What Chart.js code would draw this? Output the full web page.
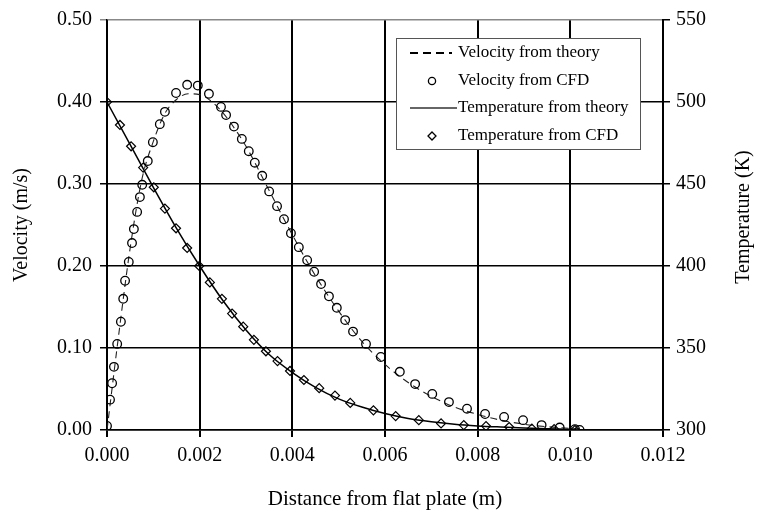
<!DOCTYPE html>
<html>
<head>
<meta charset="utf-8">
<script src="https://cdn.jsdelivr.net/npm/chart.js@4"></script>
<style>
  body { margin: 0; background: #fff; }
  #wrap { width: 757px; height: 512px; }
</style>
</head>
<body>
<div id="wrap"><canvas id="myChart" width="757" height="512"></canvas></div>
<script>
// distance from plate (m) and velocity (m/s)
const velCfdX = [0, 0.000065, 0.00011, 0.00015, 0.00022, 0.0003, 0.00035, 0.00039, 0.00047, 0.00054, 0.00058, 0.00065, 0.00071, 0.00076, 0.00088, 0.00099, 0.00114, 0.00125, 0.00149, 0.00173, 0.00196, 0.0022, 0.00246, 0.00257, 0.00274, 0.00291, 0.00306, 0.00319, 0.00335, 0.0035, 0.00367, 0.00382, 0.00397, 0.00414, 0.00432, 0.00447, 0.00462, 0.00479, 0.00496, 0.00514, 0.00531, 0.00559, 0.00591, 0.00632, 0.00665, 0.00702, 0.00738, 0.00777, 0.00816, 0.00857, 0.00898, 0.00938, 0.00977, 0.0101, 0.0102];
const velCfdY = [0.005, 0.037, 0.057, 0.077, 0.105, 0.132, 0.160, 0.182, 0.205, 0.228, 0.245, 0.266, 0.284, 0.299, 0.328, 0.351, 0.373, 0.388, 0.411, 0.421, 0.420, 0.410, 0.394, 0.384, 0.370, 0.355, 0.340, 0.326, 0.310, 0.291, 0.273, 0.257, 0.240, 0.223, 0.207, 0.193, 0.178, 0.163, 0.149, 0.134, 0.120, 0.105, 0.089, 0.071, 0.056, 0.044, 0.034, 0.026, 0.0195, 0.016, 0.012, 0.006, 0.003, 0.001, 0.0];

const velThX = [0, 0.00025, 0.0005, 0.00075, 0.001, 0.00125, 0.0015, 0.00175, 0.002, 0.00225, 0.0025, 0.00275, 0.003, 0.0035, 0.004, 0.0045, 0.005, 0.0055, 0.006, 0.0065, 0.007, 0.0075, 0.008, 0.0085, 0.009, 0.0095, 0.01, 0.0102];
const velThY = [0, 0.115, 0.222, 0.305, 0.352, 0.386, 0.403, 0.410, 0.409, 0.401, 0.387, 0.368, 0.346, 0.292, 0.238, 0.188, 0.145, 0.108, 0.080, 0.058, 0.041, 0.028, 0.019, 0.012, 0.007, 0.004, 0.002, 0.001];

// temperature (K)
const tempCfdX = [0, 0.00028, 0.00052, 0.00078, 0.00101, 0.00125, 0.00149, 0.00173, 0.00199, 0.00222, 0.00248, 0.0027, 0.00294, 0.00317, 0.00343, 0.00368, 0.00395, 0.00425, 0.00458, 0.00492, 0.00525, 0.00575, 0.00623, 0.00673, 0.00721, 0.0077, 0.00818, 0.00868, 0.00917, 0.00965, 0.0101];
const tempCfdY = [500, 486, 473, 460, 448, 435, 423, 411, 400, 390, 380, 371, 363, 355, 348, 342, 336, 330.5, 325.5, 321, 316.5, 312, 308.5, 306, 304, 303, 302.4, 301.8, 300.8, 300.5, 300];

const tempThX = [0, 0.0005, 0.001, 0.0015, 0.002, 0.0025, 0.003, 0.0035, 0.004, 0.0045, 0.005, 0.0055, 0.006, 0.0065, 0.007, 0.0075, 0.008, 0.0085, 0.009, 0.0095, 0.01, 0.0102];
const tempThY = [500, 474, 448, 423, 400, 379, 361, 346, 335, 326, 319, 314, 310, 307, 305, 303.5, 302.5, 301.8, 301.2, 300.8, 300.5, 300.4];

const seriesNames = ["Velocity from theory", "Velocity from CFD", "Temperature from theory", "Temperature from CFD"];
const rightTitle = "Temperature (K)";

function pts(xs, ys) {
  return xs.map((x, i) => ({ x: x, y: ys[i] }));
}

const FONT = '"Liberation Serif", "Times New Roman", serif';

// legend drawn as a boxed panel inside the plot, plus the right axis title read bottom-up
const legendBox = {
  id: "legendBox",
  afterDraw(chart) {
    const ctx = chart.ctx;
    const ds = chart.data.datasets;
    const bx = 396, by = 38, bw = 244, bh = 111;
    ctx.save();
    ctx.fillStyle = "#fff";
    ctx.fillRect(bx, by, bw, bh);
    ctx.strokeStyle = "#555";
    ctx.lineWidth = 1;
    ctx.strokeRect(bx + 0.5, by + 0.5, bw, bh);
    const rows = [53, 81, 108, 136];
    ctx.font = "17px " + FONT;
    ctx.textBaseline = "middle";
    for (let i = 0; i < 4; i++) {
      const y = rows[i];
      const d = ds[i];
      const dashed = d.borderDash && d.borderDash.length;
      if (d.showLine) {
        ctx.beginPath();
        ctx.setLineDash(dashed ? [8, 5] : []);
        ctx.lineWidth = dashed ? 2 : 1.4;
        ctx.strokeStyle = dashed ? "#000" : "#333";
        ctx.moveTo(410, y);
        ctx.lineTo(dashed ? 452 : 457, y);
        ctx.stroke();
        ctx.setLineDash([]);
      } else {
        ctx.lineWidth = 1.3;
        ctx.strokeStyle = "#000";
        ctx.beginPath();
        if (d.pointStyle === "rectRot") {
          ctx.moveTo(432, y - 4);
          ctx.lineTo(436, y);
          ctx.lineTo(432, y + 4);
          ctx.lineTo(428, y);
          ctx.closePath();
        } else {
          ctx.arc(432, y, 3.6, 0, Math.PI * 2);
        }
        ctx.stroke();
      }
      ctx.fillStyle = "#000";
      ctx.fillText(d.label, 458, y);
    }

    const area = chart.chartArea;
    ctx.translate(744, (area.top + area.bottom) / 2 - 8);
    ctx.rotate(-Math.PI / 2);
    ctx.font = "20px " + FONT;
    ctx.textAlign = "center";
    ctx.textBaseline = "middle";
    ctx.fillStyle = "#000";
    ctx.fillText(rightTitle, 0, 0);
    ctx.restore();
  }
};

new Chart(document.getElementById("myChart"), {
  type: "scatter",
  data: {
    datasets: [
      {
        label: seriesNames[0],
        data: pts(velThX, velThY),
        yAxisID: "y",
        showLine: true,
        borderColor: "#222",
        borderWidth: 1.1,
        borderDash: [7, 5],
        pointRadius: 0,
        cubicInterpolationMode: "monotone",
        order: 3
      },
      {
        label: seriesNames[1],
        data: pts(velCfdX, velCfdY),
        yAxisID: "y",
        showLine: false,
        pointStyle: "circle",
        pointRadius: 4.3,
        pointBorderWidth: 1.3,
        borderColor: "#000",
        backgroundColor: "rgba(0,0,0,0)",
        order: 1
      },
      {
        label: seriesNames[2],
        data: pts(tempThX, tempThY),
        yAxisID: "y1",
        showLine: true,
        borderColor: "#000",
        borderWidth: 1.5,
        pointRadius: 0,
        cubicInterpolationMode: "monotone",
        order: 4
      },
      {
        label: seriesNames[3],
        data: pts(tempCfdX, tempCfdY),
        yAxisID: "y1",
        showLine: false,
        pointStyle: "rectRot",
        pointRadius: 4.5,
        pointBorderWidth: 1.2,
        borderColor: "#000",
        backgroundColor: "rgba(0,0,0,0)",
        order: 2
      }
    ]
  },
  options: {
    responsive: false,
    animation: false,
    layout: { padding: { top: 20, left: 0, right: 0, bottom: 0 } },
    plugins: {
      legend: { display: false },
      tooltip: { enabled: false }
    },
    scales: {
      x: {
        type: "linear",
        min: 0,
        max: 0.012,
        afterFit(scale) { scale.height = 82; },
        ticks: {
          stepSize: 0.002,
          color: "#000",
          padding: 7,
          font: { family: FONT, size: 20 },
          callback: (v) => v.toFixed(3)
        },
        grid: { color: "#000", lineWidth: 2, tickLength: 7 },
        border: { color: "#000", width: 1.5 },
        title: {
          display: true,
          text: "Distance from flat plate (m)",
          color: "#000",
          font: { family: FONT, size: 21 },
          padding: { top: 0, bottom: 0 }
        }
      },
      y: {
        type: "linear",
        position: "left",
        min: 0,
        max: 0.5,
        afterFit(scale) { scale.width = 107; },
        ticks: {
          stepSize: 0.1,
          color: "#000",
          padding: 8,
          font: { family: FONT, size: 20 },
          callback: (v) => v.toFixed(2)
        },
        grid: {
          color: (c) => (c.tick && c.tick.value >= 0.5 ? "#888" : "#000"),
          lineWidth: 1.5,
          tickLength: 7
        },
        border: { color: "#000", width: 1.5 },
        title: {
          display: true,
          text: "Velocity (m/s)",
          color: "#000",
          font: { family: FONT, size: 20 },
          padding: { top: 10, bottom: 0 }
        }
      },
      y1: {
        type: "linear",
        position: "right",
        min: 300,
        max: 550,
        afterFit(scale) { scale.width = 94; },
        ticks: {
          stepSize: 50,
          color: "#000",
          padding: 6,
          font: { family: FONT, size: 20 }
        },
        grid: { drawOnChartArea: false, color: "#000", lineWidth: 1.5, tickLength: 7 },
        border: { color: "#000", width: 2 },
        title: { display: false }
      }
    }
  },
  plugins: [legendBox]
});
</script>
</body>
</html>
